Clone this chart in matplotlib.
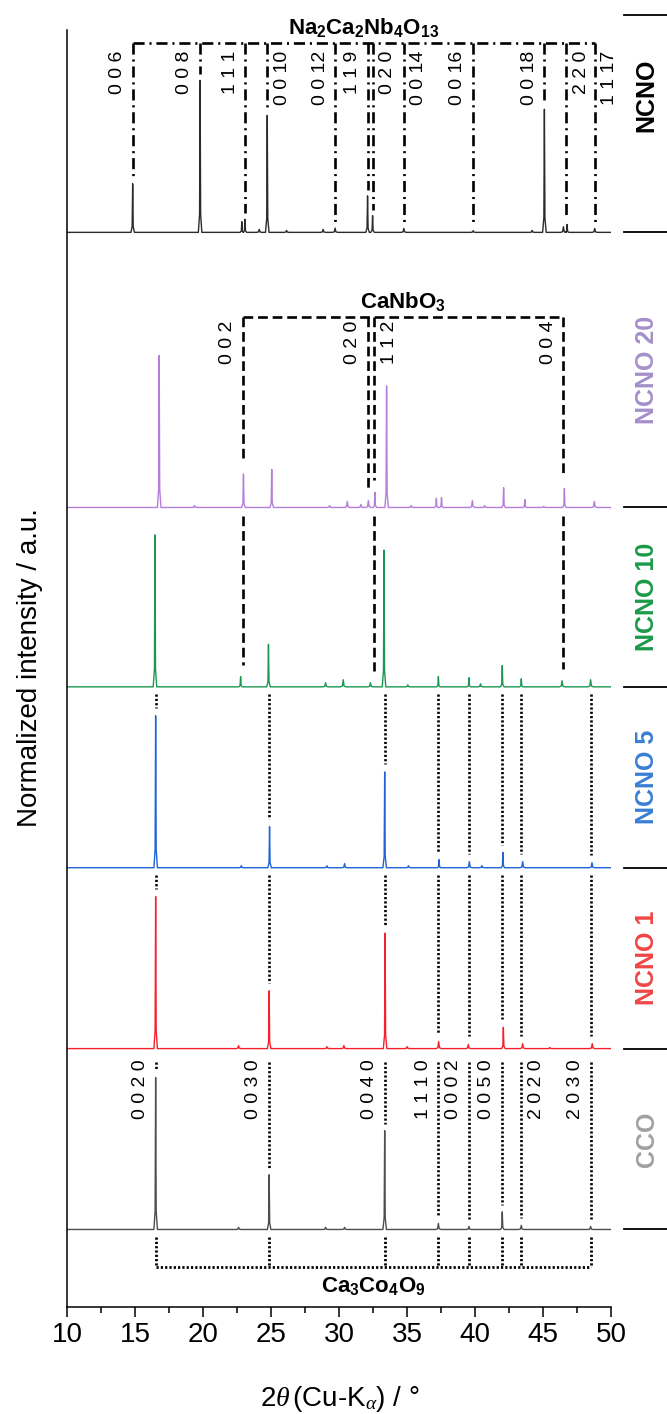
import matplotlib
matplotlib.use("Agg")
import matplotlib.pyplot as plt
from matplotlib.ticker import MultipleLocator

plt.rcParams['font.family'] = ['Liberation Sans', 'DejaVu Sans']
plt.rcParams['mathtext.fontset'] = 'custom'
plt.rcParams['mathtext.rm'] = 'Liberation Sans'
plt.rcParams['mathtext.it'] = 'Liberation Serif:italic'
plt.rcParams['mathtext.bf'] = 'Liberation Sans:bold'
plt.rcParams['lines.scale_dashes'] = False

PX = 152.0  # pixels per unit of normalised intensity

# --- Samples ---
samples = ["NCNO", "NCNO 20", "NCNO 10", "NCNO 5", "NCNO 1", "CCO"]
offsets = [7.07, 5.26, 4.08, 2.89, 1.70, 0.51]
line_colors = ["#2b2b2b", "#b57edc", "#1a9850", "#1f63d6", "#f5222d", "#4d4d4d"]
label_colors = ["black", "#a48fcb", "#1b9a48", "#3a7fd5", "#f04545", "#a0a0a0"]

# --- Peaks (2theta in deg, normalised height) ---
ncno_pos = [14.81, 19.77, 22.84, 23.07, 24.12, 24.71, 26.13, 28.82, 29.70, 32.09,
            32.46, 34.76, 39.86, 44.2, 45.10, 46.50, 46.77, 48.80]
ncno_int = [0.32, 1.0, 0.07, 0.086, 0.02, 0.77, 0.013, 0.02, 0.028, 0.24,
            0.11, 0.026, 0.011, 0.013, 0.81, 0.037, 0.052, 0.026]

ncno20_pos = [16.76, 19.36, 22.96, 25.04, 29.3, 30.6, 31.6, 32.15, 32.63, 33.49,
              35.3, 37.15, 37.53, 39.8, 40.7, 42.1, 43.66, 45.05, 46.57, 48.77]
ncno20_int = [1.0, 0.013, 0.22, 0.25, 0.013, 0.04, 0.02, 0.046, 0.1, 0.8,
              0.013, 0.06, 0.065, 0.046, 0.013, 0.13, 0.052, 0.007, 0.125, 0.04]

ncno10_pos = [16.45, 22.75, 24.8, 29.0, 30.3, 32.3, 33.3, 35.05, 37.3, 39.55,
              40.4, 42.0, 43.4, 46.4, 48.5]
ncno10_int = [1.0, 0.067, 0.28, 0.027, 0.047, 0.027, 0.9, 0.013, 0.067, 0.06,
              0.02, 0.14, 0.053, 0.04, 0.047]

ncno5_pos = [16.5, 22.8, 24.88, 29.1, 30.4, 33.35, 35.1, 37.35, 39.58, 40.5,
             42.05, 43.5, 48.6]
ncno5_int = [1.0, 0.013, 0.27, 0.013, 0.027, 0.63, 0.013, 0.053, 0.04, 0.013,
             0.1, 0.04, 0.033]

ncno1_pos = [16.5, 22.6, 24.85, 29.1, 30.35, 33.38, 35.0, 37.32, 39.5, 42.08,
             43.5, 45.5, 48.62]
ncno1_int = [1.0, 0.02, 0.38, 0.013, 0.02, 0.76, 0.013, 0.047, 0.027, 0.14,
             0.033, 0.007, 0.033]

cco_pos = [16.5, 22.6, 24.85, 29.0, 30.4, 33.35, 37.3, 39.55, 42.0, 43.4, 48.5]
cco_int = [1.0, 0.014, 0.36, 0.014, 0.014, 0.65, 0.04, 0.02, 0.116, 0.027, 0.02]

patterns = [(ncno_pos, ncno_int), (ncno20_pos, ncno20_int), (ncno10_pos, ncno10_int),
            (ncno5_pos, ncno5_int), (ncno1_pos, ncno1_int), (cco_pos, cco_int)]

# --- Reference reflections ---
ncno_ref_pos = [14.81, 19.77, 23.1, 24.71, 29.72, 32.09, 32.46, 34.74, 39.86, 45.1, 46.7, 48.8]
ncno_ref_hkl = ["0 0 6", "0 0 8", "1 1 1", "0 0 10", "0 0 12", "1 1 9", "0 2 0",
                "0 0 14", "0 0 16", "0 0 18", "2 2 0", "1 1 17"]
ncno_ref_side = [-1, -1, -1, 1, -1, -1, 1, 1, -1, -1, 1, 1]

cno_ref_pos = [22.94, 32.13, 32.57, 46.5]
cno_ref_hkl = ["0 0 2", "0 2 0", "1 1 2", "0 0 4"]
cno_ref_side = [-1, -1, 1, -1]

cco_ref_pos = [16.5, 24.85, 33.35, 37.3, 39.55, 42.0, 43.4, 48.5]
cco_ref_hkl = ["0 0 2 0", "0 0 3 0", "0 0 4 0", "1 1 1 0", "0 0 0 2", "0 0 5 0",
               "2 0 2 0", "2 0 3 0"]
cco_ref_side = [-1, -1, -1, -1, -1, -1, 1, -1]


def trace(pos, inten):
    xs, ys = [10.0], [0.0]
    for p, h in sorted(zip(pos, inten)):
        hw = 0.13 if h > 0.05 else 0.2
        xs += [p - hw, p - hw * 0.3, p, p + hw * 0.3, p + hw]
        ys += [0.0, h * 0.12, h, h * 0.12, 0.0]
    xs.append(50.0)
    ys.append(0.0)
    return xs, ys


def top_at(k, x, win=0.35):
    pos, inten = patterns[k]
    return max([h for p, h in zip(pos, inten) if abs(p - x) <= win], default=0.0)


# --- Figure ---
fig = plt.figure(figsize=(6.67, 14.14), dpi=100)
ax = fig.add_axes([67.3 / 667, 1 - 1307 / 1414, (611 - 67.3) / 667, (1307 - 15) / 1414])
ax.set_xlim(10, 50)
ax.set_ylim(0, 1292 / PX)

for k, (pos, inten) in enumerate(patterns):
    xs, ys = trace(pos, inten)
    ax.plot(xs, [y + offsets[k] for y in ys], color=line_colors[k], lw=1.0)


def seg(x, y_from, k, gap_px, ls):
    y_to = offsets[k] + top_at(k, x) + gap_px / PX
    ax.plot([x, x], [y_from, y_to], color="black", lw=1.9, ls=ls)


def hkl(x, y, text, side):
    ax.annotate(text, xy=(x, y), xytext=(side * 11, 0), textcoords="offset points",
                rotation=90, ha="center", va="top", fontsize=14)


dashdot = (0, (8, 3.5, 1.5, 3.5))
dashed = (0, (7, 3.5))
dotted = (0, (1.6, 1.5))

# Na2Ca2Nb4O13 (dash-dot)
yb = (1307 - 43) / PX
ax.plot([ncno_ref_pos[0], ncno_ref_pos[-1]], [yb, yb], color="black", lw=1.9, ls=dashdot)
for x, t, s in zip(ncno_ref_pos, ncno_ref_hkl, ncno_ref_side):
    seg(x, yb, 0, 6, dashdot)
    hkl(x, (1307 - 51) / PX, t, s)
ax.text((ncno_ref_pos[0] + ncno_ref_pos[-1]) / 2, yb + 3 / PX,
        r"$\mathbf{Na_2Ca_2Nb_4O_{13}}$", ha="center", va="bottom", fontsize=16)

# CaNbO3 (dashed)
yb = (1307 - 317) / PX
ax.plot([cno_ref_pos[0], cno_ref_pos[-1]], [yb, yb], color="black", lw=1.9, ls=dashed)
for i, (x, t, s) in enumerate(zip(cno_ref_pos, cno_ref_hkl, cno_ref_side)):
    seg(x, yb, 1, 12, dashed)
    if i != 1:
        seg(x, offsets[1] - 9 / PX, 2, 12, dashed)
    hkl(x, (1307 - 321) / PX, t, s)
ax.text((cno_ref_pos[0] + cno_ref_pos[-1]) / 2, yb + 3 / PX,
        r"$\mathbf{CaNbO_3}$", ha="center", va="bottom", fontsize=16)

# Ca3Co4O9 (dotted)
yb = (1307 - 1267) / PX
ax.plot([cco_ref_pos[0], cco_ref_pos[-1]], [yb, yb], color="black", lw=2.0, ls=dotted)
for x, t, s in zip(cco_ref_pos, cco_ref_hkl, cco_ref_side):
    seg(x, offsets[2] - 7 / PX, 3, 8, dotted)
    seg(x, offsets[3] - 7 / PX, 4, 8, dotted)
    seg(x, (1307 - 1062) / PX, 5, 7, dotted)
    ax.plot([x, x], [offsets[5] - 8 / PX, yb], color="black", lw=2.0, ls=dotted)
    hkl(x, (1307 - 1059) / PX, t, s)
ax.text((cco_ref_pos[0] + cco_ref_pos[-1]) / 2, yb - 8 / PX,
        r"$\mathbf{Ca_3Co_4O_9}$", ha="center", va="top", fontsize=16)

# --- Right-hand sample labels and separators ---
seps = [1292 / PX] + offsets
label_y = [(1307 - 95) / PX] + [(seps[k] + offsets[k]) / 2 for k in range(1, 6)]
for y in seps:
    ax.plot([50.93, 54.3], [y, y], color="black", lw=1.3, clip_on=False)
for k, name in enumerate(samples):
    ax.text(52.63, label_y[k], name, rotation=90, ha="center",
            va="center", fontsize=18, fontweight="bold", color=label_colors[k],
            clip_on=False)

# --- Axes styling ---
for side in ["top", "right"]:
    ax.spines[side].set_visible(False)
ax.spines["left"].set_bounds(0, (1307 - 30) / PX)
ax.spines["left"].set_linewidth(1.1)
ax.spines["bottom"].set_linewidth(1.1)
ax.set_yticks([])
ax.set_xticks(range(10, 51, 5))
ax.xaxis.set_minor_locator(MultipleLocator(2.5))
ax.tick_params(axis="x", which="major", direction="out", length=7, width=1.1,
               labelsize=20, pad=4)
ax.tick_params(axis="x", which="minor", direction="out", length=4, width=1.1)

fig.text(30 / 667, 1 - 668 / 1414, "Normalized intensity / a.u.", rotation=90,
         ha="center", va="center", fontsize=20)
fig.text(340 / 667, 1 - 1399 / 1414, r"2$\theta\,$(Cu-K$_{\alpha}$) / °",
         ha="center", va="center", fontsize=20)

fig.savefig("out.png", dpi=100)
